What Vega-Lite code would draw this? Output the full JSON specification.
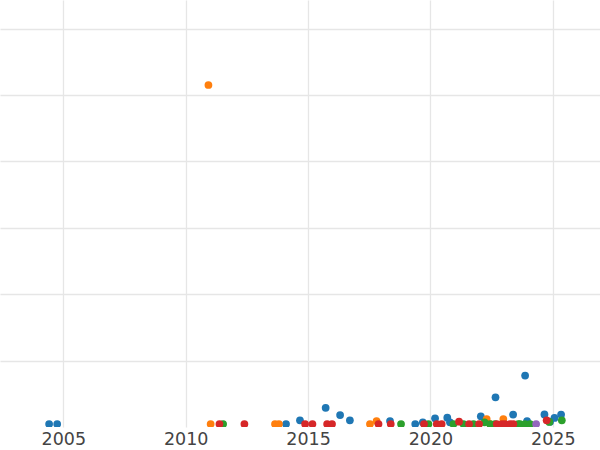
{
  "$schema": "https://vega.github.io/schema/vega-lite/v6.json",
  "width": 600,
  "height": 427,
  "autosize": {"type": "none"},
  "padding": {"left": 0, "top": 0, "right": 0, "bottom": 23},
  "background": "white",
  "config": {
    "view": {"stroke": null},
    "font": "DejaVu Sans"
  },
  "data": {
    "values": [
      {"series": "A", "year": 2004.42, "value": 0.45},
      {"series": "A", "year": 2004.75, "value": 0.45},
      {"series": "A", "year": 2014.10, "value": 0.45},
      {"series": "A", "year": 2014.67, "value": 1.0},
      {"series": "A", "year": 2015.72, "value": 2.88},
      {"series": "A", "year": 2016.31, "value": 1.8},
      {"series": "A", "year": 2016.71, "value": 1.0},
      {"series": "A", "year": 2018.35, "value": 0.9},
      {"series": "A", "year": 2019.38, "value": 0.45},
      {"series": "A", "year": 2019.69, "value": 0.7},
      {"series": "A", "year": 2020.19, "value": 1.3},
      {"series": "A", "year": 2020.69, "value": 1.4},
      {"series": "A", "year": 2020.80, "value": 0.7},
      {"series": "A", "year": 2022.06, "value": 1.6},
      {"series": "A", "year": 2022.66, "value": 4.47},
      {"series": "A", "year": 2023.38, "value": 1.87},
      {"series": "A", "year": 2023.87, "value": 7.74},
      {"series": "A", "year": 2023.95, "value": 0.9},
      {"series": "A", "year": 2024.66, "value": 1.9},
      {"series": "A", "year": 2024.89, "value": 0.8},
      {"series": "A", "year": 2025.07, "value": 1.37},
      {"series": "A", "year": 2025.34, "value": 1.87},
      {"series": "B", "year": 2010.93, "value": 51.5},
      {"series": "B", "year": 2011.02, "value": 0.45},
      {"series": "B", "year": 2013.65, "value": 0.45},
      {"series": "B", "year": 2013.81, "value": 0.45},
      {"series": "B", "year": 2017.53, "value": 0.45},
      {"series": "B", "year": 2017.80, "value": 0.9},
      {"series": "B", "year": 2022.30, "value": 1.2},
      {"series": "B", "year": 2022.44, "value": 0.45},
      {"series": "B", "year": 2022.98, "value": 1.2},
      {"series": "C", "year": 2011.53, "value": 0.45},
      {"series": "C", "year": 2018.80, "value": 0.45},
      {"series": "C", "year": 2019.92, "value": 0.45},
      {"series": "C", "year": 2020.94, "value": 0.45},
      {"series": "C", "year": 2021.35, "value": 0.45},
      {"series": "C", "year": 2021.76, "value": 0.45},
      {"series": "C", "year": 2022.21, "value": 0.7},
      {"series": "C", "year": 2022.44, "value": 0.45},
      {"series": "C", "year": 2022.64, "value": 0.45},
      {"series": "C", "year": 2023.59, "value": 0.45},
      {"series": "C", "year": 2023.66, "value": 0.45},
      {"series": "C", "year": 2023.87, "value": 0.45},
      {"series": "C", "year": 2024.07, "value": 0.45},
      {"series": "C", "year": 2024.86, "value": 0.77},
      {"series": "C", "year": 2025.37, "value": 1.0},
      {"series": "D", "year": 2011.38, "value": 0.45},
      {"series": "D", "year": 2012.40, "value": 0.45},
      {"series": "D", "year": 2014.88, "value": 0.45},
      {"series": "D", "year": 2015.18, "value": 0.45},
      {"series": "D", "year": 2015.78, "value": 0.45},
      {"series": "D", "year": 2015.98, "value": 0.45},
      {"series": "D", "year": 2017.88, "value": 0.45},
      {"series": "D", "year": 2018.38, "value": 0.45},
      {"series": "D", "year": 2019.74, "value": 0.45},
      {"series": "D", "year": 2020.26, "value": 0.45},
      {"series": "D", "year": 2020.46, "value": 0.45},
      {"series": "D", "year": 2021.17, "value": 0.8},
      {"series": "D", "year": 2021.58, "value": 0.45},
      {"series": "D", "year": 2021.99, "value": 0.45},
      {"series": "D", "year": 2022.71, "value": 0.45},
      {"series": "D", "year": 2022.92, "value": 0.45},
      {"series": "D", "year": 2023.05, "value": 0.45},
      {"series": "D", "year": 2023.26, "value": 0.45},
      {"series": "D", "year": 2023.39, "value": 0.45},
      {"series": "D", "year": 2024.75, "value": 1.0},
      {"series": "E", "year": 2024.32, "value": 0.45}
    ]
  },
  "mark": {"type": "circle", "size": 60, "opacity": 1, "clip": true},
  "encoding": {
    "x": {
      "field": "year",
      "type": "quantitative",
      "scale": {"domain": [2002.413, 2026.93], "nice": false, "zero": false},
      "axis": {
        "title": null,
        "values": [2005, 2010, 2015, 2020, 2025],
        "format": "d",
        "domain": false,
        "ticks": false,
        "labelPadding": 3,
        "labelFontSize": 17.5,
        "labelColor": "#444444",
        "labelFont": "DejaVu Sans",
        "gridColor": "#e6e6e6",
        "gridWidth": 1.3
      }
    },
    "y": {
      "field": "value",
      "type": "quantitative",
      "scale": {"domain": [0, 64.3], "nice": false, "zero": false},
      "axis": {
        "title": null,
        "values": [10, 20, 30, 40, 50, 60],
        "labels": false,
        "domain": false,
        "ticks": false,
        "gridColor": "#e6e6e6",
        "gridWidth": 1.3
      }
    },
    "color": {
      "field": "series",
      "type": "nominal",
      "scale": {
        "domain": ["A", "B", "C", "D", "E"],
        "range": ["#1f77b4", "#ff7f0e", "#2ca02c", "#d62728", "#9467bd"]
      },
      "legend": null
    }
  }
}
